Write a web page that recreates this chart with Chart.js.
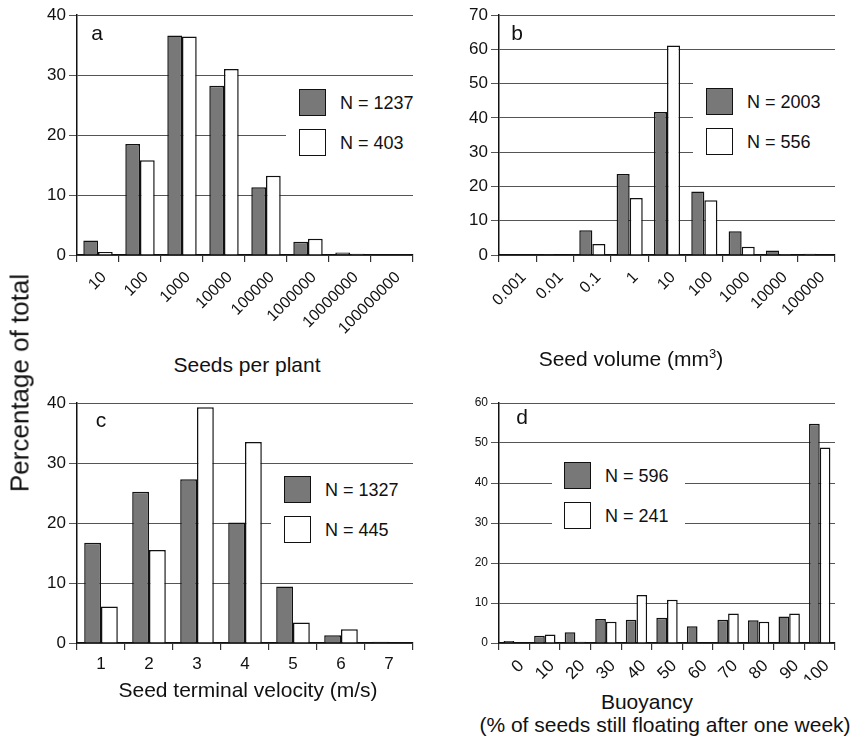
<!DOCTYPE html>
<html>
<head>
<meta charset="utf-8">
<title>Seed traits</title>
<script src="https://cdn.jsdelivr.net/npm/chart.js@4.4.1/dist/chart.umd.min.js"></script>
<style>
  body { margin: 0; background: #fff; }
  #page { position: relative; width: 858px; height: 738px; overflow: hidden; font-family: 'Liberation Sans', Arial, sans-serif; color: #111; }
  canvas { position: absolute; }
  .txt { position: absolute; white-space: nowrap; transform: translate(-50%, -50%); z-index: 2; }
  .legend { position: absolute; background: #fff; z-index: 3; }
  .swatch { position: absolute; width: 25px; height: 25px; border: 1px solid #111; }
  .legend span { position: absolute; font-size: 18px; transform: translateY(-50%); white-space: nowrap; }
  sup { font-size: 13px; line-height: 0; }
</style>
</head>
<body>
<div id="page">
  <canvas id="chartA"></canvas>
  <canvas id="chartB"></canvas>
  <canvas id="chartC"></canvas>
  <canvas id="chartD"></canvas>

  <div class="txt" style="left:20px; top:383px; font-size:26px; transform:translate(-50%,-50%) rotate(-90deg);">Percentage of total</div>

  <div class="txt" style="left:97px; top:33px; font-size:21px;">a</div>
  <div class="txt" style="left:517px; top:33px; font-size:21px;">b</div>
  <div class="txt" style="left:101px; top:420px; font-size:21px;">c</div>
  <div class="txt" style="left:522px; top:417px; font-size:21px;">d</div>

  <div class="txt" style="left:247px; top:365px; font-size:21px;">Seeds per plant</div>
  <div class="txt" style="left:631px; top:359px; font-size:21px;">Seed volume (mm<sup>3</sup>)</div>
  <div class="txt" style="left:248px; top:690px; font-size:21px;">Seed terminal velocity (m/s)</div>
  <div class="txt" style="left:647px; top:702px; font-size:21px;">Buoyancy</div>
  <div class="txt" style="left:665px; top:725px; font-size:21px;">(% of seeds still floating after one week)</div>
</div>

<script>
const FONT = "'Liberation Sans', Arial, sans-serif";

// a: seeds per plant
const seedLabels = ['10', '100', '1000', '10000', '100000', '1000000', '10000000', '100000000'];
const seedsAll = [2.4, 18.5, 36.6, 28.2, 11.3, 2.2, 0.4, 0.1];
const seedsSub = [0.5, 15.8, 36.4, 31.0, 13.2, 2.7, 0.2, 0];
const seedsN = ['N = 1237', 'N = 403'];

// b: seed volume
const volumeLabels = ['0.001', '0.01', '0.1', '1', '10', '100', '1000', '10000', '100000'];
const volumeAll = [0.1, 0.3, 7.2, 23.6, 41.7, 18.5, 6.9, 1.3, 0.4];
const volumeSub = [0, 0.1, 3.2, 16.6, 61.1, 16.0, 2.4, 0.3, 0];
const volumeN = ['N = 2003', 'N = 556'];

// c: terminal velocity
const velocityLabels = ['1', '2', '3', '4', '5', '6', '7'];
const velocityAll = [16.7, 25.2, 27.3, 20.1, 9.4, 1.3, 0.2];
const velocitySub = [6.1, 15.5, 39.3, 33.5, 3.4, 2.3, 0];
const velocityN = ['N = 1327', 'N = 445'];

// d: buoyancy
const buoyancyLabels = ['0', '10', '20', '30', '40', '50', '60', '70', '80', '90', '100'];
const buoyancyAll = [0.5, 1.8, 2.7, 6.0, 5.8, 6.3, 4.2, 5.8, 5.7, 6.6, 54.8];
const buoyancySub = [0, 2.1, 0.3, 5.3, 12.0, 10.8, 0, 7.4, 5.3, 7.4, 48.9];
const buoyancyN = ['N = 596', 'N = 241'];

const barStyle = (fill) => ({
    backgroundColor: fill,
    borderColor: '#111',
    borderWidth: 1.5,
    categoryPercentage: 0.7,
    barPercentage: 1.0
});

const makePanel = (p) => {
    const canvas = document.getElementById(p.id);
    canvas.width = p.w;
    canvas.height = p.h;
    canvas.style.left = p.x + 'px';
    canvas.style.top = p.y + 'px';
    const area = p.area;

    return new Chart(canvas, {
        type: 'bar',
        data: {
            labels: p.labels,
            datasets: [
                { label: p.names[0], data: p.dark, ...barStyle('#787878') },
                { label: p.names[1], data: p.light, ...barStyle('#ffffff') }
            ]
        },
        options: {
            responsive: false,
            animation: false,
            devicePixelRatio: 1,
            layout: { padding: { left: 0, top: area.top, right: p.w - area.right, bottom: 0 } },
            plugins: { legend: { display: false }, tooltip: { enabled: false } },
            scales: {
                x: {
                    grid: { drawOnChartArea: false, offset: true, tickLength: 7, color: '#333', lineWidth: 1.2 },
                    border: { color: '#111', width: 1.5 },
                    ticks: {
                        color: '#111',
                        font: { family: FONT, size: p.xFont },
                        minRotation: p.rot,
                        maxRotation: p.rot,
                        padding: p.tickPad,
                        labelOffset: p.labelOffset,
                        autoSkip: false
                    },
                    afterFit: (s) => { s.height = p.h - area.bottom; }
                },
                y: {
                    min: 0,
                    max: p.max,
                    ticks: { stepSize: 10, color: '#111', font: { family: FONT, size: p.yFont }, padding: 3 },
                    grid: { color: '#555', lineWidth: 1, tickLength: 8 },
                    border: { color: '#111', width: 1.5 },
                    afterFit: (s) => { s.width = area.left; }
                }
            }
        }
    });
};

// white box with two swatches, sits over the gridlines
const addLegend = (box, names, swX, swTops, textX) => {
    const page = document.getElementById('page');
    const el = document.createElement('div');
    el.className = 'legend';
    el.style.left = box.x + 'px';
    el.style.top = box.y + 'px';
    el.style.width = box.w + 'px';
    el.style.height = box.h + 'px';
    const fills = ['#787878', '#ffffff'];
    names.forEach((name, i) => {
        const sw = document.createElement('div');
        sw.className = 'swatch';
        sw.style.left = (swX - box.x) + 'px';
        sw.style.top = (swTops[i] - box.y) + 'px';
        sw.style.background = fills[i];
        el.appendChild(sw);
        const t = document.createElement('span');
        t.textContent = name;
        t.style.left = (textX - box.x) + 'px';
        t.style.top = (swTops[i] - box.y + 13.5) + 'px';
        el.appendChild(t);
    });
    page.appendChild(el);
};

makePanel({
    id: 'chartA', x: 0, y: 0, w: 430, h: 352,
    area: { left: 77, top: 15, right: 413, bottom: 255 },
    labels: seedLabels, dark: seedsAll, light: seedsSub, names: seedsN,
    max: 40, yFont: 17, xFont: 16, rot: 45, tickPad: 6, labelOffset: 6
});
makePanel({
    id: 'chartB', x: 430, y: 0, w: 428, h: 352,
    area: { left: 69, top: 15, right: 405, bottom: 255 },
    labels: volumeLabels, dark: volumeAll, light: volumeSub, names: volumeN,
    max: 70, yFont: 17, xFont: 16, rot: 45, tickPad: 6, labelOffset: 6
});
makePanel({
    id: 'chartC', x: 0, y: 380, w: 430, h: 300,
    area: { left: 77, top: 23, right: 413, bottom: 263 },
    labels: velocityLabels, dark: velocityAll, light: velocitySub, names: velocityN,
    max: 40, yFont: 17, xFont: 17, rot: 0, tickPad: 4, labelOffset: 0
});
makePanel({
    id: 'chartD', x: 430, y: 380, w: 428, h: 300,
    area: { left: 69, top: 23, right: 405, bottom: 263 },
    labels: buoyancyLabels, dark: buoyancyAll, light: buoyancySub, names: buoyancyN,
    max: 60, yFont: 12, xFont: 17, rot: 45, tickPad: 6, labelOffset: 7
});

addLegend({ x: 286, y: 80, w: 144, h: 82 }, seedsN, 299, [89, 129], 340);
addLegend({ x: 693, y: 79, w: 165, h: 86 }, volumeN, 706, [88, 128], 747);
addLegend({ x: 271, y: 468, w: 159, h: 100 }, velocityN, 284, [476, 516], 325);
addLegend({ x: 552, y: 450, w: 133, h: 100 }, buoyancyN, 564, [462, 502], 605);
</script>
</body>
</html>
